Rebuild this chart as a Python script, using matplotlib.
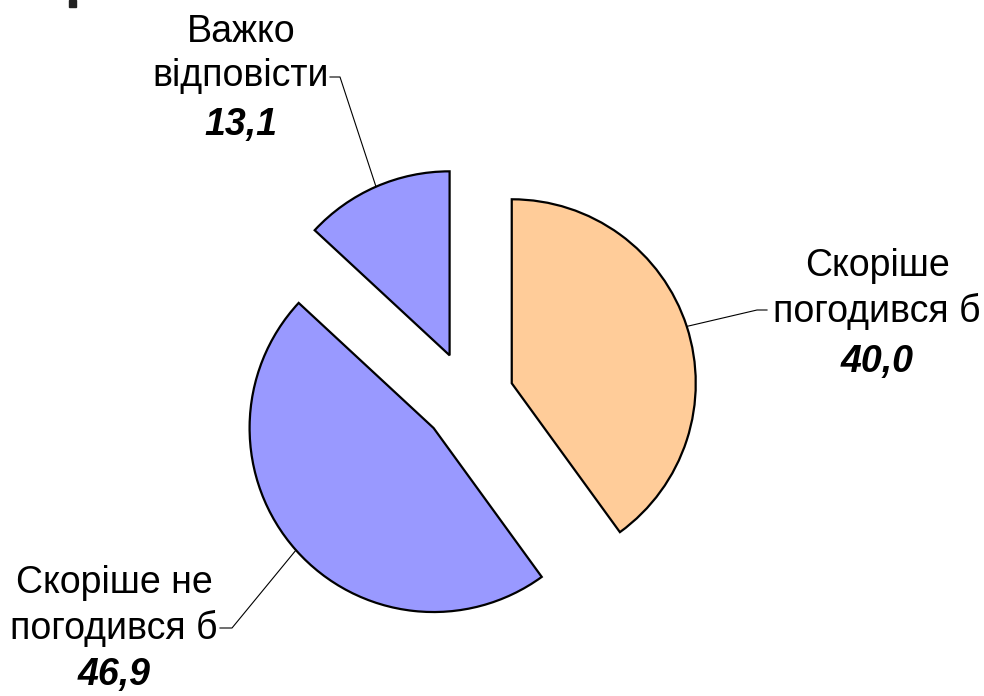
import numpy as np
import matplotlib
matplotlib.use("Agg")
import matplotlib.pyplot as plt
from matplotlib.patches import Rectangle

labels = ["Скоріше\nпогодився б", "Скоріше не\nпогодився б", "Важко\nвідповісти"]
values = [40.0, 46.9, 13.1]
value_texts = ["40,0", "46,9", "13,1"]
colors = ["#FFCC99", "#9999FF", "#9999FF"]

W, H = 984, 696
CX, CY, R = 468, 397.5, 184  # pie centre and radius in pixels


def px(x, y):
    # pixel position (y down) -> data coords of the pie axes
    return (x - CX) / R, (CY - y) / R


# label text centres (pixels): name block centre x, y, value line centre y
label_pos = [(877, 289, 362), (114, 606, 675), (241, 54, 125)]
# leader elbow and end of the short horizontal tick (pixels)
leader_pts = [((757, 310), (767, 310)), ((232, 628), (220, 628)), ((340, 77), (330, 77))]

plt.rcParams["font.family"] = ["Liberation Sans", "DejaVu Sans"]

fig = plt.figure(figsize=(W / 100, H / 100), dpi=100)
ax = fig.add_axes([0, 0, 1, 1])
wedges, _ = ax.pie(values, colors=colors, startangle=90, counterclock=False,
                   explode=[0.25] * len(values), radius=1.0,
                   wedgeprops=dict(edgecolor="black", linewidth=1.6))
ax.set_xlim(-CX / R, (W - CX) / R)
ax.set_ylim(-(H - CY) / R, CY / R)
ax.set_aspect("auto")
ax.axis("off")

for w, lab, val, (tx, ty, vy), (elbow, tick) in zip(wedges, labels, value_texts, label_pos, leader_pts):
    mid = np.deg2rad((w.theta1 + w.theta2) / 2)
    cx, cy = w.center
    start = (cx + w.r * np.cos(mid), cy + w.r * np.sin(mid))
    e, t = px(*elbow), px(*tick)
    ax.plot([start[0], e[0], t[0]], [start[1], e[1], t[1]], color="black", lw=0.8)
    ax.text(*px(tx, ty), lab, ha="center", va="center", fontsize=27, linespacing=1.3)
    ax.text(*px(tx, vy), val, ha="center", va="center", fontsize=27,
            fontweight="bold", fontstyle="italic")

fig.patches.append(Rectangle((69 / W, 1 - 7 / H), 7 / W, 7 / H, transform=fig.transFigure,
                             color="#222222"))

fig.savefig("out.png", dpi=100)
